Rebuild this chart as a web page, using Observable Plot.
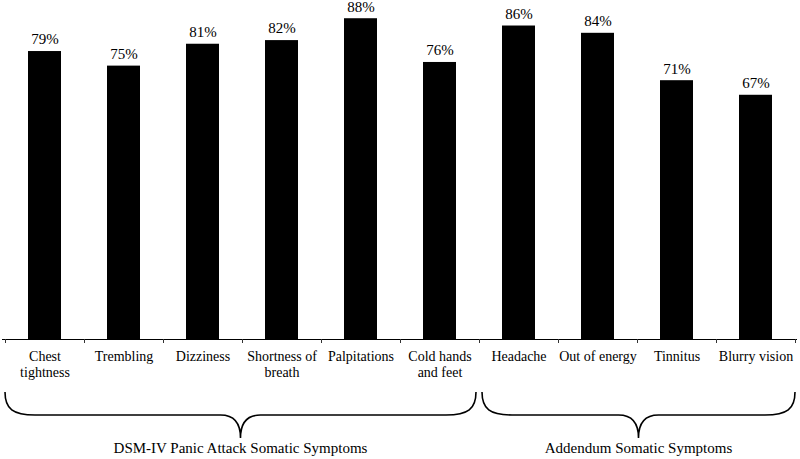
<!DOCTYPE html>
<html><head><meta charset="utf-8">
<script src="https://cdn.jsdelivr.net/npm/d3@7"></script>
<script src="https://cdn.jsdelivr.net/npm/@observablehq/plot@0.6"></script>
<style>body{margin:0;background:#fff} svg{display:block}</style>
</head><body><div id="chart"></div>
<script>
const categories = ["Chest tightness","Trembling","Dizziness","Shortness of breath","Palpitations","Cold hands and feet","Headache","Out of energy","Tinnitus","Blurry vision"];
const tickLabels = ["Chest\ntightness","Trembling","Dizziness","Shortness of\nbreath","Palpitations","Cold hands\nand feet","Headache","Out of energy","Tinnitus","Blurry vision"];
const values = [79,75,81,82,88,76,86,84,71,67];
const groupNames = ["DSM-IV Panic Attack Somatic Symptoms","Addendum Somatic Symptoms"];
const groupSizes = [6,4];

const data = categories.map((c,i)=>({category:c, value:values[i], label:values[i]+"%"}));
const font = "'Liberation Serif', 'Times New Roman', serif";

const plot = Plot.plot({
  width:800, height:459,
  marginTop:0, marginBottom:120, marginLeft:2, marginRight:3,
  style:{fontFamily:font, fontSize:"14px", color:"#000", background:"#fff", overflow:"visible"},
  x:{domain:categories, paddingInner:0.585, paddingOuter:0.2925, label:null, axis:null},
  y:{domain:[0,93], axis:null},
  marks:[
    Plot.barY(data,{x:"category", y:"value", fill:"#000"}),
    Plot.text(data,{x:"category", y:"value", text:"label", dy:-12, fontSize:15, fill:"#000"}),
    Plot.axisX({tickSize:0, tickPadding:10, fontSize:14, lineHeight:1.15, fill:"#000",
      tickFormat:d=>tickLabels[categories.indexOf(d)]}),
    Plot.ruleY([0],{stroke:"#000", strokeWidth:1})
  ]
});
document.getElementById("chart").appendChild(plot);

// band-boundary ticks, braces and group labels, positioned through Plot's scales
const xs = plot.scale("x"), ys = plot.scale("y");
const bw = xs.bandwidth;
const step = xs.apply(categories[1]) - xs.apply(categories[0]);
const edge = i => i < categories.length ? xs.apply(categories[i]) - (step - bw)/2
                                         : xs.apply(categories[i-1]) + bw + (step - bw)/2;
const y0 = ys.apply(0);
const svg = d3.select(plot);
const g = svg.append("g");
for (let i = 0; i <= categories.length; i++) {
  const x = Math.round(edge(i)) + 0.5;
  g.append("line").attr("x1",x).attr("x2",x).attr("y1",y0).attr("y2",y0+4)
    .attr("stroke","#333").attr("stroke-width",1);
}
const yTop = 392, yMid = 415, yTip = 438;
let start = 0;
groupSizes.forEach((n,k)=>{
  let x0 = edge(start), x1 = edge(start+n);
  if (k > 0) x0 += 3; if (k < groupSizes.length-1) x1 -= 3;
  const xm = (x0 + x1)/2;
  const r = 30, rt = 20;
  const p = `M${x0},${yTop} C${x0},${yMid-6} ${x0+8},${yMid} ${x0+r},${yMid} L${xm-rt},${yMid} C${xm-6},${yMid} ${xm},${yMid+8} ${xm},${yTip} C${xm},${yMid+8} ${xm+6},${yMid} ${xm+rt},${yMid} L${x1-r},${yMid} C${x1-8},${yMid} ${x1},${yMid-6} ${x1},${yTop}`;
  g.append("path").attr("d",p).attr("fill","none").attr("stroke","#000").attr("stroke-width",1.6);
  g.append("text").attr("x",xm).attr("y",448).attr("dy","0.35em").attr("text-anchor","middle")
    .attr("font-family",font).attr("font-size",15).attr("fill","#000").text(groupNames[k]);
  start += n;
});
</script>
</body></html>
